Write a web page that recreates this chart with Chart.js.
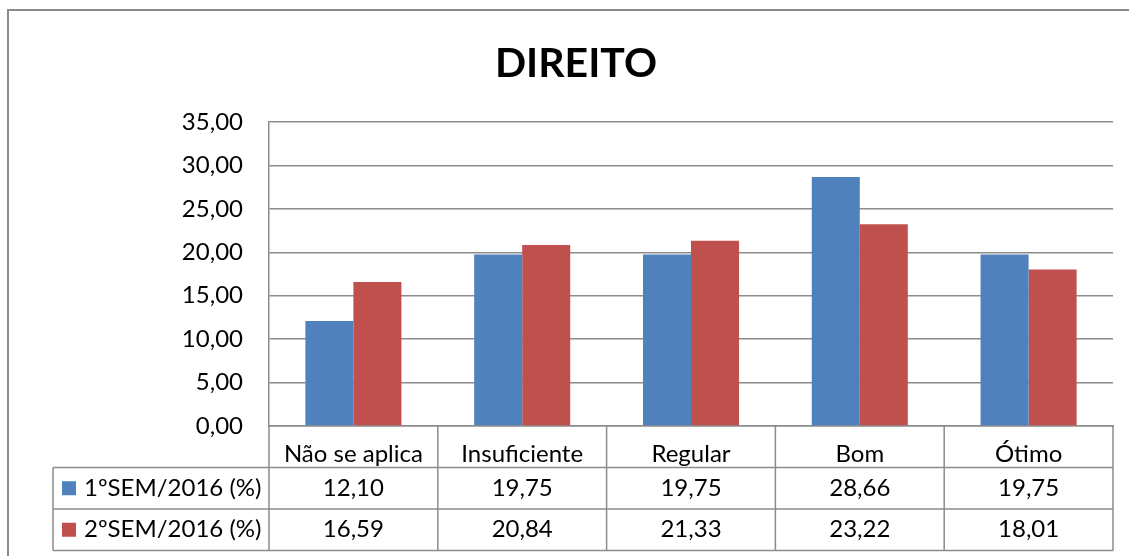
<!DOCTYPE html>
<html lang="pt">
<head>
<meta charset="utf-8">
<title>DIREITO</title>
<script src="https://cdn.jsdelivr.net/npm/chart.js@4.4.1/dist/chart.umd.min.js"></script>
<style>
  html, body { margin: 0; padding: 0; background: #fff; }
  #wrap { position: relative; width: 1129px; height: 556px; }
</style>
</head>
<body>
<div id="wrap"><canvas id="grafico" width="1129" height="556"></canvas></div>
<script>
// Avaliação - curso de Direito, comparação entre semestres
const titulo = 'DIREITO';
const categorias = ['Não se aplica', 'Insuficiente', 'Regular', 'Bom', 'Ótimo'];
const sem1 = [12.10, 19.75, 19.75, 28.66, 19.75];
const sem2 = [16.59, 20.84, 21.33, 23.22, 18.01];
const nomesSeries = ['1ºSEM/2016 (%)', '2ºSEM/2016 (%)'];
const coresSeries = ['#4f81bd', '#c0504d'];

const FONTE = 'Lato, "Open Sans", sans-serif';
const CINZA = '#8c8c8c';
const fmt = v => v.toFixed(2).replace('.', ',');

// moldura externa (só aparecem esquerda e topo) + título centralizado na moldura
const moldura = {
  id: 'moldura',
  beforeDraw(chart) {
    const ctx = chart.ctx;
    ctx.save();
    ctx.strokeStyle = CINZA;
    ctx.lineWidth = 2;
    ctx.strokeRect(8, 10, 1300, 700);
    ctx.font = 'bold 41px ' + FONTE;
    ctx.fillStyle = '#000';
    ctx.textAlign = 'center';
    ctx.textBaseline = 'alphabetic';
    ctx.fillText(titulo, 576, 77);
    ctx.restore();
  }
};

// tabela de dados abaixo do eixo x
const tabelaDados = {
  id: 'tabelaDados',
  afterDraw(chart) {
    const { ctx, chartArea: area, scales: { x } } = chart;
    const alt = 41.5;
    const y0 = area.bottom;
    const y1 = y0 + alt, y2 = y1 + alt, y3 = y2 + alt;
    const esq = 53;
    const larg = (area.right - area.left) / categorias.length;

    ctx.save();
    ctx.strokeStyle = CINZA;
    ctx.lineWidth = 1.5;
    ctx.beginPath();
    // linhas horizontais
    [y1, y2, y3].forEach(y => { ctx.moveTo(esq, y); ctx.lineTo(area.right, y); });
    // coluna da legenda
    ctx.moveTo(esq, y1); ctx.lineTo(esq, y3);
    ctx.moveTo(area.left, y0); ctx.lineTo(area.left, y3);
    // divisões das categorias
    for (let i = 1; i <= categorias.length; i++) {
      const xi = area.left + i * larg;
      ctx.moveTo(xi, y0); ctx.lineTo(xi, y3);
    }
    ctx.stroke();

    ctx.font = '24px ' + FONTE;
    ctx.textBaseline = 'middle';
    [sem1, sem2].forEach((serie, s) => {
      const yc = y1 + alt * s + alt / 2;
      ctx.fillStyle = coresSeries[s];
      ctx.fillRect(62, yc - 7, 14, 14);
      ctx.fillStyle = '#000';
      ctx.textAlign = 'left';
      ctx.fillText(nomesSeries[s], 84, yc);
      ctx.textAlign = 'center';
      serie.forEach((v, i) => ctx.fillText(fmt(v), x.getPixelForValue(i), yc));
    });
    ctx.restore();
  }
};

new Chart(document.getElementById('grafico'), {
  type: 'bar',
  data: {
    labels: categorias,
    datasets: [
      { label: nomesSeries[0], data: sem1, backgroundColor: coresSeries[0] },
      { label: nomesSeries[1], data: sem2, backgroundColor: coresSeries[1] }
    ]
  },
  options: {
    responsive: false,
    animation: false,
    layout: { padding: { left: 0, top: 122, right: 16, bottom: 0 } },
    datasets: { bar: { categoryPercentage: 0.569, barPercentage: 1 } },
    plugins: {
      legend: { display: false },
      tooltip: { enabled: false },
      title: { display: false }
    },
    scales: {
      x: {
        afterFit: s => { s.height = 130; },
        grid: { display: false },
        border: { color: CINZA, width: 1.5 },
        ticks: {
          color: '#000',
          font: { family: FONTE, size: 24 },
          padding: 6,
          autoSkip: false,
          maxRotation: 0
        }
      },
      y: {
        min: 0,
        max: 35,
        afterFit: s => { s.width = 269; },
        grid: { color: CINZA, lineWidth: 1.5, drawTicks: false },
        border: { color: CINZA, width: 1.5 },
        ticks: {
          stepSize: 5,
          color: '#000',
          font: { family: FONTE, size: 24 },
          padding: 26,
          callback: v => fmt(v)
        }
      }
    }
  },
  plugins: [moldura, tabelaDados]
});
</script>
</body>
</html>
